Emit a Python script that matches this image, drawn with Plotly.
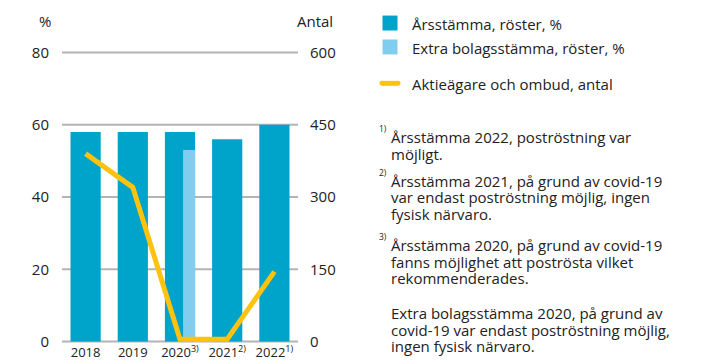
import plotly.graph_objects as go

# Data
years = ["2018", "2019", "2020<sup>3)</sup>", "2021<sup>2)</sup>", "2022<sup>1)</sup>"]
arsstamma_pct = [58, 58, 58, 56, 60]
extra_year_idx = [2]
extra_pct = [53]
aktieagare_antal = [390, 320, 5, 5, 145]

left_ticks = [0, 20, 40, 60, 80]
right_ticks = [0, 150, 300, 450, 600]

legend_names = ["Årsstämma, röster, %", "Extra bolagsstämma, röster, %",
                "Aktieägare och ombud, antal"]

footnote_marks = ["1)", "2)", "3)", ""]
footnote_lines = [
    ["Årsstämma 2022, poströstning var", "möjligt."],
    ["Årsstämma 2021, på grund av covid-19",
     "var endast poströstning möjlig, ingen", "fysisk närvaro."],
    ["Årsstämma 2020, på grund av covid-19",
     "fanns möjlighet att poströsta vilket", "rekommenderades."],
    ["Extra bolagsstämma 2020, på grund av",
     "covid-19 var endast poströstning möjlig,", "ingen fysisk närvaro."],
]

DARK = "#00A3CA"
LIGHT = "#80CDF0"
YELLOW = "#FFC20E"
GRID = "#B4B4B4"
TEXT = "#222222"
FONT = "Open Sans"

W, H = 706, 363
# plot box: 80 % sits at y=52 px, 0 % at y=342 px; the y ranges get a small
# pad so the outer rules are not clipped by the plot area
PAD = 0.4
PCT_RANGE = [0 - PAD, 80 + PAD]
CNT_RANGE = [0 - PAD * 600 / 80, 600 + PAD * 600 / 80]
PAD_PX = PAD * 290 / 80
M_L, M_R, M_T, M_B = 62, 408, 52 - PAD_PX, 21 - PAD_PX
PW, PH = W - M_L - M_R, H - M_T - M_B
X_RANGE = [-0.5, 4.5]


def px(xp):
    """page pixel x -> paper fraction"""
    return (xp - M_L) / PW


def py(yp):
    """page pixel y -> paper fraction"""
    return 1 - (yp - M_T) / PH


x_idx = list(range(len(years)))

# horizontal rules at each left-axis tick, on the base axis beneath the bars
grid_x, grid_y = [], []
for v in left_ticks:
    grid_x += [X_RANGE[0], X_RANGE[1], None]
    grid_y += [v, v, None]

fig = go.Figure()
fig.add_trace(go.Scatter(
    x=grid_x, y=grid_y, mode="lines", line=dict(color=GRID, width=2),
    hoverinfo="skip", showlegend=False, yaxis="y",
))
fig.add_trace(go.Bar(
    x=x_idx, y=arsstamma_pct, name=legend_names[0],
    marker=dict(color=DARK, line=dict(width=0)), width=0.64,
    hoverinfo="skip", yaxis="y2",
))
fig.add_trace(go.Bar(
    x=extra_year_idx, y=extra_pct, name=legend_names[1],
    marker=dict(color=LIGHT, line=dict(width=0)), width=0.255, offset=0.065,
    hoverinfo="skip", yaxis="y2",
))
fig.add_trace(go.Scatter(
    x=x_idx, y=aktieagare_antal, name=legend_names[2],
    mode="lines", line=dict(color=YELLOW, width=5),
    yaxis="y3", hoverinfo="skip",
))

fig.update_layout(
    width=W, height=H,
    margin=dict(l=M_L, r=M_R, t=M_T, b=M_B, autoexpand=False),
    paper_bgcolor="white", plot_bgcolor="rgba(0,0,0,0)",
    barmode="overlay",
    font=dict(family=FONT, size=15, color=TEXT),
    showlegend=False,
    xaxis=dict(
        range=X_RANGE, tickmode="array", tickvals=x_idx, ticktext=years,
        showgrid=False, zeroline=False, showline=False, ticks="",
        tickfont=dict(size=13), automargin=False,
    ),
    yaxis=dict(
        range=PCT_RANGE, tickmode="array", tickvals=left_ticks,
        showgrid=False, zeroline=False, showline=False,
        ticks="outside", ticklen=9, tickcolor="rgba(0,0,0,0)",
        tickfont=dict(size=15), automargin=False,
    ),
    yaxis2=dict(
        range=PCT_RANGE, overlaying="y", side="left", visible=False,
    ),
    yaxis3=dict(
        range=CNT_RANGE, tickmode="array", tickvals=right_ticks,
        overlaying="y", side="right",
        showgrid=False, zeroline=False, showline=False,
        ticks="outside", ticklen=8, tickcolor="rgba(0,0,0,0)",
        tickfont=dict(size=15), automargin=False,
    ),
)

# axis unit labels
fig.add_annotation(text="%", xref="paper", yref="paper", x=px(53), y=py(20),
                   xanchor="right", yanchor="middle", showarrow=False)
fig.add_annotation(text="Antal", xref="paper", yref="paper", x=px(335), y=py(20),
                   xanchor="right", yanchor="middle", showarrow=False)

# legend: swatches and labels
swatch_tops = [15, 39]
for color, top in zip([DARK, LIGHT], swatch_tops):
    fig.add_shape(type="rect", xref="paper", yref="paper",
                  x0=px(382.5), x1=px(397.5), y0=py(top), y1=py(top + 15),
                  fillcolor=color, line=dict(width=0))
fig.add_shape(type="line", xref="paper", yref="paper",
              x0=px(382), x1=px(398), y0=py(83), y1=py(83),
              line=dict(color=YELLOW, width=5))
for cx in (382, 398):
    fig.add_shape(type="circle", xref="paper", yref="paper",
                  x0=px(cx - 2.5), x1=px(cx + 2.5), y0=py(80.5), y1=py(85.5),
                  fillcolor=YELLOW, line=dict(width=0))
for name, cy in zip(legend_names, [23, 47.5, 84]):
    fig.add_annotation(text=name, xref="paper", yref="paper", x=px(410),
                       y=py(cy), xanchor="left", yanchor="middle",
                       showarrow=False)

# footnotes, one annotation per line on a fixed pitch
first_baselines = [141.7, 185.7, 250, 318.3]
pitch = 16.7
for mark, lines, base in zip(footnote_marks, footnote_lines, first_baselines):
    if mark:
        fig.add_annotation(text=mark, xref="paper", yref="paper",
                           x=px(376.5), y=py(base - 13.5), xanchor="left",
                           yanchor="middle", showarrow=False,
                           font=dict(size=8.5))
    for i, line in enumerate(lines):
        fig.add_annotation(text=line, xref="paper", yref="paper",
                           x=px(389), y=py(base + i * pitch - 5),
                           xanchor="left", yanchor="middle", showarrow=False)

fig.write_html("out.html")
